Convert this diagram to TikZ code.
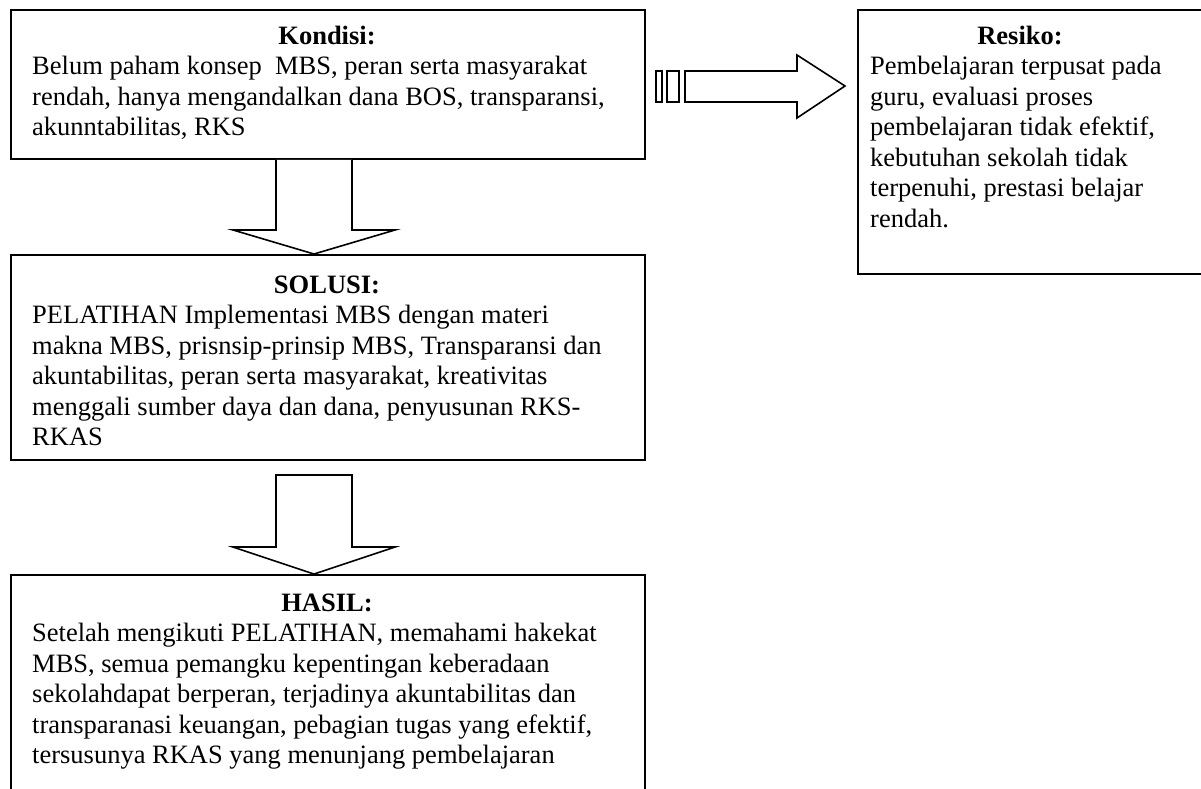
\documentclass[tikz,border=0pt]{standalone}
\usepackage{fontspec}
\setmainfont{Liberation Serif}
\tikzset{
  box/.style={draw, line width=1.8pt, inner sep=0pt, anchor=north west},
  head/.style={font=\fontsize{26.5}{30.5}\selectfont\bfseries, inner sep=0pt, anchor=base},
  body/.style={inner sep=0pt, anchor=base west},
  blockarrow/.style={draw, line width=1.6pt, fill=white, line join=miter}
}
\newcommand{\bodytext}[1]{\parbox[t]{620pt}{\fontsize{26.5}{30.5}\selectfont\raggedright #1}}
\begin{document}
\begin{tikzpicture}[x=1pt,y=-1pt]
\useasboundingbox (0,0) rectangle (1201,788);
\clip (0,0) rectangle (1201,788);
% boxes
\node[box, minimum width=634pt, minimum height=149pt] (kondisi) at (10,9) {};
\node[box, minimum width=380pt, minimum height=264pt] (resiko) at (857,9) {};
\node[box, minimum width=634pt, minimum height=205pt] (solusi) at (10,254) {};
\node[box, minimum width=634pt, minimum height=240pt] (hasil) at (10,574) {};
% texts
\node[head] (kh) at (327,44) {Kondisi:};
\node[body] (kb) at (32,74.5) {\bodytext{Belum paham konsep\ \ MBS, peran serta masyarakat\\
rendah, hanya mengandalkan dana BOS, transparansi,\\
akunntabilitas, RKS}};
\node[head] (rh) at (1020,44) {Resiko:};
\node[body] (rb) at (870,74.5) {\bodytext{Pembelajaran terpusat pada\\
guru, evaluasi proses\\
pembelajaran tidak efektif,\\
kebutuhan sekolah tidak\\
terpenuhi, prestasi belajar\\
rendah.}};
\node[head] (sh) at (327,293) {SOLUSI:};
\node[body] (sb) at (32,323.5) {\bodytext{PELATIHAN Implementasi MBS dengan materi\\
makna MBS, prisnsip-prinsip MBS, Transparansi dan\\
akuntabilitas, peran serta masyarakat, kreativitas\\
menggali sumber daya dan dana, penyusunan RKS-\\
RKAS}};
\node[head] (hh) at (327,611) {HASIL:};
\node[body] (hb) at (32,641.5) {\bodytext{Setelah mengikuti PELATIHAN, memahami hakekat\\
MBS, semua pemangku kepentingan keberadaan\\
sekolahdapat berperan, terjadinya akuntabilitas dan\\
transparanasi keuangan, pebagian tugas yang efektif,\\
tersusunya RKAS yang menunjang pembelajaran}};
% down arrow 1: kondisi -> solusi
\coordinate (t1) at (solusi.north west -| 314,0);
\coordinate (t2) at (hasil.north west -| 314,0);
\coordinate (t3) at (845,86);
\draw[blockarrow] (kondisi.south west -| 276,0) -- (276,230) -- (233,230) -- (t1) -- (395,230) -- (352,230) -- (kondisi.south west -| 352,0);
% down arrow 2: solusi -> hasil
\draw[blockarrow] (276,475) -- (276,547) -- (233,547) -- (t2) -- (395,547) -- (352,547) -- (352,475) -- cycle;
% right striped arrow: kondisi -> resiko
\draw[blockarrow] (656,71) rectangle (662,102);
\draw[blockarrow] (667,71) rectangle (679,102);
\draw[blockarrow] (685,71) -- (797,71) -- (797,55) -- (t3) -- (797,118) -- (797,102) -- (685,102) -- cycle;
\end{tikzpicture}
\end{document}
